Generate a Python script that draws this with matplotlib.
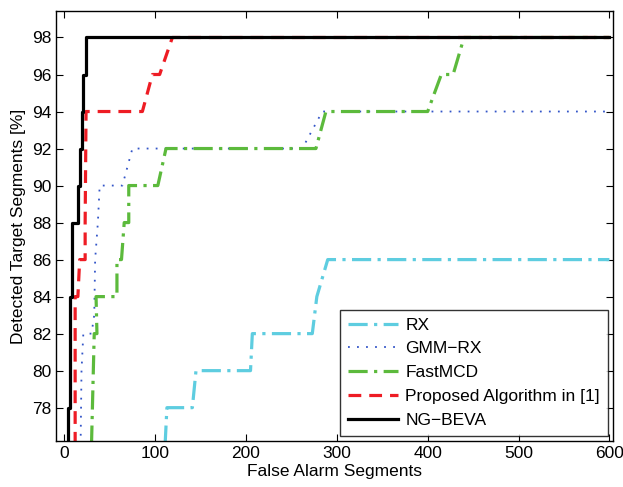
import matplotlib
matplotlib.use("Agg")
import matplotlib.pyplot as plt

# Detection curves (false alarms, detected %)
RX_FA = [111, 113, 141, 145, 205, 207, 273, 278, 290, 600]
RX_DET = [76, 78, 78, 80, 80, 82, 82, 84, 86, 86]

GMM_FA = [18, 19, 21, 30, 33, 34, 37, 39, 64, 75, 262, 284, 600]
GMM_DET = [76, 80, 82, 82, 83, 86, 88, 90, 90, 92, 92, 94, 94]

MCD_FA = [30, 31, 33, 36, 35, 58, 58, 63, 66, 71, 71, 103, 112, 277, 288, 400, 415, 428, 440, 600]
MCD_DET = [76, 78, 82, 82, 84, 84, 86, 86, 88, 88, 90, 90, 92, 92, 94, 94, 96, 96, 98, 98]

PROP_FA = [12, 12, 15, 17, 23, 23, 24, 86, 97, 105, 119, 600]
PROP_DET = [76, 84, 84, 86, 86, 88, 94, 94, 96, 96, 98, 98]

NG_FA = [4, 4, 6, 6, 9, 9, 15, 15, 17, 17, 19, 19, 21, 21, 24, 24, 26, 600]
NG_DET = [76, 78, 78, 84, 84, 88, 88, 90, 90, 92, 92, 94, 94, 96, 96, 98, 98, 98]

LABELS = ["RX", "GMM\u2212RX", "FastMCD", "Proposed Algorithm in [1]", "NG\u2212BEVA"]
X_TICKS = [0, 100, 200, 300, 400, 500, 600]
Y_TICKS = [78, 80, 82, 84, 86, 88, 90, 92, 94, 96, 98]

plt.rcParams["font.family"] = ["Liberation Sans", "DejaVu Sans"]

fig = plt.figure(figsize=(6.23, 4.87), dpi=100)
ax = fig.add_axes([0.09, 0.0945, 0.894, 0.8825])

ax.plot(RX_FA, RX_DET, color="#5ecde0", linewidth=2.3,
        dashes=(6, 2, 1, 2), label=LABELS[0])
ax.plot(GMM_FA, GMM_DET, color="#3355c8", linewidth=1.3,
        dashes=(1, 4), label=LABELS[1])
ax.plot(MCD_FA, MCD_DET, color="#5cba3c", linewidth=2.3,
        dashes=(6, 2, 1, 2), label=LABELS[2])
ax.plot(PROP_FA, PROP_DET, color="#ee1c24", linewidth=2.3,
        dashes=(4, 2.5), label=LABELS[3])
ax.plot(NG_FA, NG_DET, color="black", linewidth=2.3, label=LABELS[4])

ax.set_xlim(-9, 604)
ax.set_ylim(76.2, 99.42)
ax.set_xticks(X_TICKS)
ax.set_yticks(Y_TICKS)
ax.tick_params(direction="in", top=True, right=True, length=5, width=0.8,
               labelsize=12.5)
for sp in ax.spines.values():
    sp.set_linewidth(1.0)

ax.set_xlabel("False Alarm Segments", fontsize=12.5, labelpad=2)
ax.set_ylabel("Detected Target Segments [%]", fontsize=12.5, labelpad=4)

leg = ax.legend(loc="lower right", fontsize=12.5, frameon=True, fancybox=False,
                edgecolor="black", handlelength=2.9, borderaxespad=0.3,
                labelspacing=0.5, borderpad=0.45, handletextpad=0.4)
leg.get_frame().set_linewidth(1.0)

fig.savefig("out.png", dpi=100)
